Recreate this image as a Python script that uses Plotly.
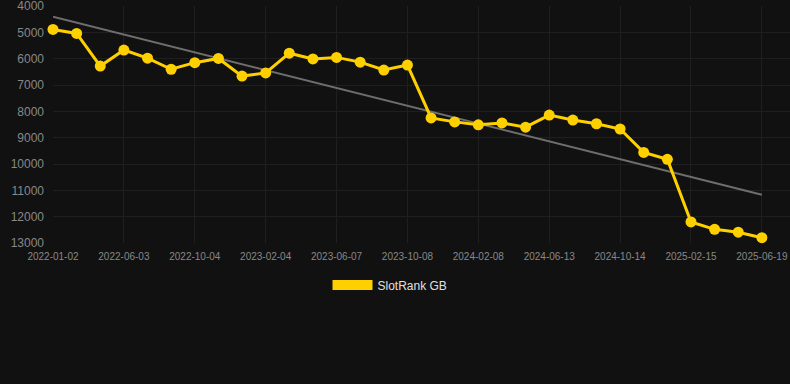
import numpy as np
import plotly.graph_objects as go

dates = [
    "2022-01-02", "2022-02-22", "2022-04-13", "2022-06-03", "2022-07-14", "2022-08-24",
    "2022-10-04", "2022-11-14", "2022-12-25", "2023-02-04", "2023-03-17", "2023-04-27",
    "2023-06-07", "2023-07-18", "2023-08-28", "2023-10-08", "2023-11-18", "2023-12-29",
    "2024-02-08", "2024-03-20", "2024-05-02", "2024-06-13", "2024-07-24", "2024-09-03",
    "2024-10-14", "2024-11-24", "2025-01-05", "2025-02-15", "2025-03-28", "2025-05-09",
    "2025-06-19",
]
rank_gb = [
    4890, 5040, 6280, 5670, 5980, 6400, 6150, 5990, 6660, 6540,
    5790, 6010, 5950, 6130, 6430, 6240, 8250, 8400, 8510, 8440,
    8600, 8140, 8330, 8470, 8670, 9560, 9820, 12200, 12480, 12590,
    12800,
]
tick_labels = dates[::3]
y_ticks = [4000, 5000, 6000, 7000, 8000, 9000, 10000, 11000, 12000, 13000]
y_tick_text = [str(v) for v in y_ticks]

idx = np.arange(len(rank_gb))
slope, intercept = np.polyfit(idx, rank_gb, 1)
trend = slope * idx + intercept

fig = go.Figure()
fig.add_trace(go.Scatter(
    x=dates, y=trend, mode="lines",
    line=dict(color="#6e6e6e", width=2),
    showlegend=False, hoverinfo="skip",
))
fig.add_trace(go.Scatter(
    x=dates, y=rank_gb, mode="lines+markers",
    line=dict(color="#FFD000", width=3),
    marker=dict(color="#FFD000", size=11),
    showlegend=False, cliponaxis=False,
))
fig.add_trace(go.Scatter(
    x=[None], y=[None], mode="lines",
    line=dict(color="#FFD000", width=12),
    name="SlotRank GB",
))

fig.update_layout(
    width=790, height=384,
    paper_bgcolor="#111111", plot_bgcolor="#111111",
    margin=dict(l=53, r=0, t=6, b=141),
    font=dict(family="Liberation Sans, Arial, sans-serif", color="#888888", size=11),
    legend=dict(
        orientation="h", xref="container", yref="container",
        x=390 / 790, xanchor="center", y=1 - 285 / 384, yanchor="middle",
        font=dict(color="#e0e0e0", size=12), itemwidth=40,
        bgcolor="rgba(0,0,0,0)",
    ),
    xaxis=dict(
        type="category", categoryorder="array", categoryarray=dates,
        range=[0, 31.19],
        tickvals=tick_labels, ticktext=tick_labels,
        showgrid=True, gridcolor="#1f1f1f", gridwidth=1,
        zeroline=False, showline=False, ticks="", ticklabelstandoff=6,
        tickfont=dict(size=10, color="#888888"),
    ),
    yaxis=dict(
        range=[13000, 3998], tickvals=y_ticks, ticktext=y_tick_text,
        showgrid=True, gridcolor="#1f1f1f", gridwidth=1,
        zeroline=False, showline=False, ticks="", ticklabelstandoff=8,
        ticklabeloverflow="allow",
        tickfont=dict(size=12, color="#888888"),
    ),
)
fig.write_html(
    "out.html",
    config={"displayModeBar": False},
    post_script="document.body.style.margin='0';document.body.style.background='#111111';",
)
